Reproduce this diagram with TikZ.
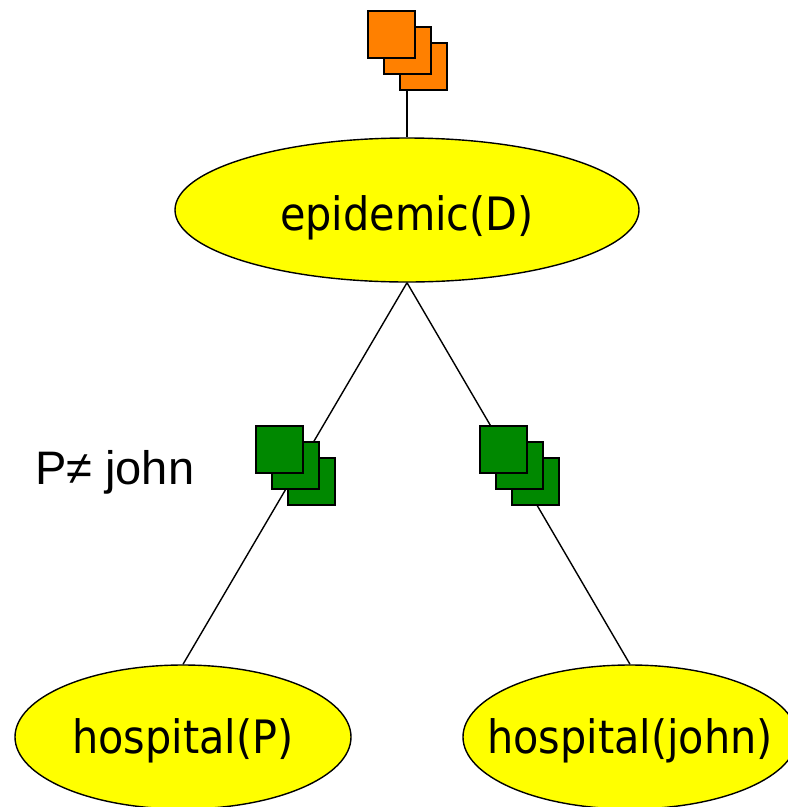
\documentclass[tikz,border=0pt]{standalone}
\usepackage{fontspec}
\setmainfont{DejaVu Sans Condensed}
\newfontfamily\labelfont{Liberation Sans}
\usetikzlibrary{shapes.geometric}
\definecolor{nodeyellow}{HTML}{FFFF00}
\definecolor{tileorange}{HTML}{FF8000}
\definecolor{tilegreen}{HTML}{008800}
% text of a goal: zero-size box, baseline dropped below the centre,
% so the ellipse keeps its given size
\newcommand{\goaltext}[2]{\raisebox{-#1}[0pt][0pt]{\makebox[0pt]{#2}}}
\tikzset{
  goal/.style={ellipse, draw=black, line width=1.4pt, fill=nodeyellow,
    inner sep=0pt, font=\fontsize{46}{50}\selectfont},
  tile/.style={rectangle, draw=black, line width=2pt, minimum size=47pt,
    inner sep=0pt},
  link/.style={draw=black, line width=1.4pt},
}
\begin{document}
\begin{tikzpicture}[x=1pt,y=-1pt]
\useasboundingbox (0,0) rectangle (788,807);
\clip (0,0) rectangle (788,807);

% goal nodes
\node[goal, minimum width=464pt, minimum height=144pt] (epi) at (407,210) {\goaltext{20pt}{epidemic(D)}};
\node[goal, minimum width=336pt, minimum height=144pt] (hp) at (183,737) {\goaltext{16pt}{hospital(P)}};
\node[goal, minimum width=334pt, minimum height=144pt] (hj) at (630,737) {\goaltext{16pt}{hospital(john)}};

% anchor for the stacked tiles above the root
\coordinate (otop) at (407,50);

% connectors (drawn below the tiles)
\draw[link] (otop) -- (epi.north);
\draw[link] (epi.south) -- (hp.north);
\draw[link] (epi.south) -- (hj.north);

% orange tile stack
\node[tile, fill=tileorange] (o3) at (423,66) {};
\node[tile, fill=tileorange] (o2) at (407,50) {};
\node[tile, fill=tileorange] (o1) at (391,34) {};

% green tile stack, left branch
\node[tile, fill=tilegreen] (gl3) at (311,481) {};
\node[tile, fill=tilegreen] (gl2) at (295,465) {};
\node[tile, fill=tilegreen] (gl1) at (279,449) {};

% green tile stack, right branch
\node[tile, fill=tilegreen] (gr3) at (535,481) {};
\node[tile, fill=tilegreen] (gr2) at (519,465) {};
\node[tile, fill=tilegreen] (gr1) at (503,449) {};

% constraint label
\node[anchor=west, inner sep=0pt, font=\labelfont\fontsize{47}{50}\selectfont] (cond) at (35,472) {P≠ john};
\end{tikzpicture}
\end{document}
